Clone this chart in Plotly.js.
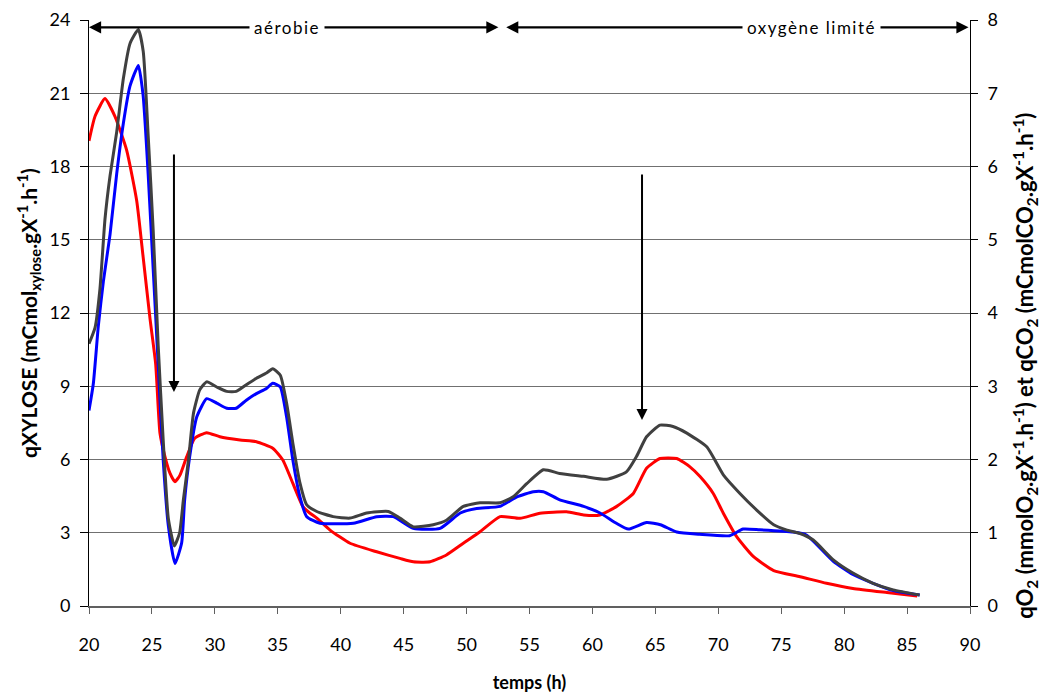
<!DOCTYPE html>
<html>
<head>
<meta charset="utf-8">
<script src="https://cdn.plot.ly/plotly-3.0.1.min.js"></script>
<style>
html,body{margin:0;padding:0;background:#fff;}
#chart{width:1041px;height:693px;}
.annotation-text[data-unformatted="aérobie"],
.annotation-text[data-unformatted="oxygène limité"]{letter-spacing:1.5px;}
</style>
</head>
<body>
<div id="chart"></div>
<script>
// qXYLOSE (left axis, mCmol xylose . gX-1 . h-1)
const xyloseTime = [20.0,20.48,21.27,22.07,22.99,23.79,24.3,24.85,25.3,25.64,26.04,26.44,26.83,27.23,27.76,28.4,29.35,30.4,32.0,33.3,34.6,35.4,36.2,37.0,37.56,38.1,39.15,40.74,42.86,44.7,45.77,47.1,48.4,49.74,51.07,52.66,54.24,55.83,57.95,59.3,60.6,61.9,63.25,64.3,65.37,66.7,67.75,68.55,69.6,70.4,71.46,72.8,74.4,76.5,78.6,80.7,83.4,85.8];
const qXylose = [19.05,20.06,20.78,20.04,18.67,16.6,14.3,11.76,9.9,7.07,6.11,5.43,5.09,5.36,6.11,6.87,7.1,6.93,6.8,6.73,6.46,5.98,5.02,4.07,3.8,3.6,3.11,2.57,2.22,1.95,1.81,1.81,2.09,2.57,3.04,3.66,3.59,3.8,3.86,3.73,3.73,4.07,4.61,5.64,6.04,6.04,5.7,5.3,4.61,3.8,2.84,2.02,1.45,1.2,0.93,0.72,0.55,0.41];

// qO2 (right axis, mmol O2 . gX-1 . h-1)
const o2Time = [20.0,20.34,20.74,21.14,21.67,22.2,22.73,23.26,23.92,24.3,24.7,25.1,25.5,25.9,26.3,26.83,27.36,27.6,28.0,28.56,29.35,30.15,30.94,31.7,32.5,33.3,34.1,34.6,35.2,35.7,36.2,36.76,37.3,38.35,41.0,42.86,44.18,45.77,47.9,49.5,50.8,52.66,54.0,55.3,56.1,57.4,59.3,60.6,61.9,62.85,64.3,65.4,66.7,68.5,70.9,71.97,73.3,75.95,77.0,79.14,80.7,82.3,83.9,86.0];
const qO2 = [2.67,3.03,3.82,4.43,5.07,5.90,6.59,7.10,7.38,6.97,5.90,4.60,3.29,1.98,1.10,0.58,0.86,1.45,2.04,2.58,2.83,2.77,2.70,2.70,2.81,2.90,2.97,3.04,2.99,2.58,1.99,1.49,1.22,1.13,1.13,1.22,1.22,1.06,1.06,1.27,1.33,1.36,1.49,1.56,1.56,1.45,1.36,1.27,1.13,1.05,1.14,1.11,1.01,0.98,0.96,1.05,1.04,1.01,0.97,0.61,0.43,0.31,0.21,0.15];

// qCO2 (right axis, mCmol CO2 . gX-1 . h-1)
const co2Time = [20.0,20.48,20.87,21.27,21.67,22.2,22.73,23.26,23.92,24.31,24.7,25.1,25.5,25.9,26.3,26.78,27.2,27.5,27.9,28.3,28.8,29.35,30.15,30.94,31.7,32.5,33.3,34.1,34.6,35.2,35.7,36.2,36.76,37.3,38.1,39.4,40.74,42.06,43.78,44.7,45.77,47.35,48.4,49.74,51.07,52.66,53.7,54.78,56.1,57.4,59.3,61.13,62.7,63.5,64.3,65.37,66.4,67.5,69.1,70.4,71.7,73.05,74.4,75.4,76.5,77.55,79.14,80.7,82.3,83.9,86.0];
const qCO2 = [3.58,3.80,4.33,5.28,5.87,6.47,7.20,7.68,7.87,7.57,6.43,5.13,3.55,2.25,1.20,0.82,1.00,1.45,1.99,2.63,2.95,3.06,2.99,2.93,2.93,3.02,3.11,3.18,3.24,3.15,2.77,2.22,1.68,1.38,1.29,1.22,1.20,1.27,1.29,1.20,1.08,1.11,1.17,1.36,1.41,1.41,1.49,1.67,1.86,1.81,1.77,1.73,1.83,2.04,2.31,2.47,2.45,2.36,2.17,1.79,1.54,1.31,1.11,1.04,0.99,0.90,0.63,0.45,0.31,0.22,0.15];

const xTicks = [20,25,30,35,40,45,50,55,60,65,70,75,80,85,90];
const phaseLabels = ['aérobie','oxygène limité'];
const phaseBounds = [[20,52.65],[53.15,90]];
const phaseLabelX = [35.73,77.37];
const arrowMarks = [[26.75,18.55,8.76],[63.94,17.73,7.62]];
const rightTitle = '<b>qO<sub>2</sub> (mmolO<sub>2</sub>.gX<sup>-1</sup>.h<sup>-1</sup>) et qCO<sub>2</sub> (mCmolCO<sub>2</sub>.gX<sup>-1</sup>.h<sup>-1</sup>)</b>';

const FONT = 'Lato, "Open Sans", sans-serif';

const lineStyle = (c) => ({color:c, width:3, shape:'spline', smoothing:0.5});
const traces = [
  {x: xyloseTime, y: qXylose, type:'scatter', mode:'lines', name:'qXYLOSE',
   line:lineStyle('#ff0000'), yaxis:'y'},
  {x: o2Time, y: qO2, type:'scatter', mode:'lines', name:'qO2',
   line:lineStyle('#0000ff'), yaxis:'y2'},
  {x: co2Time, y: qCO2, type:'scatter', mode:'lines', name:'qCO2',
   line:lineStyle('#404040'), yaxis:'y2'}
];

const annotations = [];
const arrowY = 23.7;
phaseBounds.forEach((b) => {
  annotations.push({x:b[0], y:arrowY, ax:b[1], ay:arrowY, xref:'x', yref:'y', axref:'x', ayref:'y',
    text:'', showarrow:true, arrowhead:2, startarrowhead:2, arrowside:'end+start',
    arrowwidth:2.2, arrowsize:1.1, startarrowsize:1.1, arrowcolor:'#000'});
});
phaseLabels.forEach((t,i) => {
  annotations.push({x:phaseLabelX[i], y:arrowY, xref:'x', yref:'y', text:t, showarrow:false,
    bgcolor:'#fff', borderpad:4, font:{family:FONT, size:17, color:'#000'}});
});
arrowMarks.forEach((a) => {
  annotations.push({x:a[0], y:a[2], ax:a[0], ay:a[1], xref:'x', yref:'y', axref:'x', ayref:'y',
    text:'', showarrow:true, arrowhead:2, arrowwidth:2, arrowsize:1.1, arrowcolor:'#000'});
});
annotations.push({xref:'paper', yref:'paper', x:1.0624, y:0.41, xanchor:'center', yanchor:'middle',
  text:rightTitle, textangle:-90, showarrow:false, font:{family:FONT, size:22, color:'#000'}});

const layout = {
  width:1041, height:693,
  margin:{l:89, r:71, t:20, b:87},
  paper_bgcolor:'#fff', plot_bgcolor:'#fff',
  showlegend:false,
  font:{family:FONT, size:16, color:'#000'},
  xaxis:{range:[20,90], tickvals:xTicks, ticks:'outside', ticklen:6, tickcolor:'#606060',
    showline:true, linecolor:'#606060', linewidth:1.5, showgrid:false, zeroline:false,
    ticklabelstandoff:16, tickfont:{family:FONT, size:18},
    title:{text:'<b>temps (h)</b>', font:{family:FONT, size:18}, standoff:22}},
  yaxis:{range:[0,24], dtick:3, ticks:'outside', ticklen:8, tickcolor:'#000',
    showline:true, linecolor:'#000', linewidth:1, showgrid:true, gridcolor:'#707070', gridwidth:1,
    zeroline:false, ticklabelstandoff:6, tickfont:{family:FONT, size:18},
    title:{text:'<b>qXYLOSE (mCmol<sub>xylose</sub>.gX<sup>-1</sup>.h<sup>-1</sup>)</b>', font:{family:FONT, size:21}, standoff:6}},
  yaxis2:{range:[0,8], dtick:1, overlaying:'y', side:'right', ticks:'outside', ticklen:7, tickcolor:'#000',
    showline:true, linecolor:'#000', linewidth:1, showgrid:false, zeroline:false,
    ticklabelstandoff:6, tickfont:{family:FONT, size:18}},
  annotations: annotations
};

Plotly.newPlot('chart', traces, layout, {staticPlot:true, displayModeBar:false});
</script>
</body>
</html>
